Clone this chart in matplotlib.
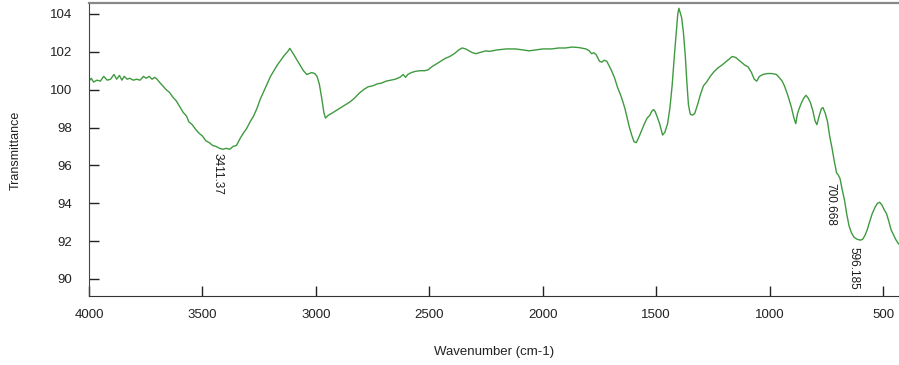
import numpy as np
import matplotlib.pyplot as plt

# FTIR spectrum, wavenumber (cm-1) vs transmittance
wavenumber = [
    4000, 3990, 3980, 3965, 3950, 3935, 3920, 3905, 3890, 3878, 3866, 3855, 3845, 3832,
    3820, 3805, 3790, 3775, 3760, 3748, 3735, 3722, 3710, 3700, 3690, 3675, 3660, 3645,
    3630, 3615, 3600, 3585, 3570, 3560, 3545, 3530, 3515, 3500, 3485, 3470, 3455, 3440,
    3425, 3410, 3395, 3380, 3365, 3350, 3335, 3320, 3305, 3290, 3275, 3260, 3245, 3230,
    3215, 3200, 3185, 3170, 3155, 3140, 3125, 3115, 3100, 3085, 3070, 3055, 3040, 3030,
    3018, 3005, 2995, 2985, 2975, 2965, 2958, 2945, 2930, 2910, 2890, 2870, 2850, 2830,
    2810, 2790, 2770, 2750, 2730, 2710, 2690, 2670, 2650, 2630, 2615, 2605, 2595, 2580,
    2560, 2540, 2520, 2505, 2490, 2470, 2450, 2430, 2410, 2390, 2370, 2355, 2340, 2325,
    2310, 2295, 2280, 2265, 2250, 2235, 2200, 2160, 2120, 2090, 2060, 2030, 2000, 1960,
    1930, 1900, 1870, 1840, 1810, 1795, 1785, 1775, 1765, 1750, 1740, 1730, 1718, 1705,
    1695, 1683, 1670, 1658, 1648, 1638, 1628, 1618, 1608, 1598, 1588, 1578, 1566, 1552,
    1540, 1528, 1520, 1512, 1505, 1497, 1485, 1472, 1462, 1450, 1440, 1430, 1420, 1412,
    1405, 1400, 1395, 1388, 1380, 1372, 1365, 1358, 1350, 1340, 1330, 1318, 1305, 1292,
    1278, 1262, 1245, 1228, 1210, 1195, 1180, 1165, 1150, 1140, 1125, 1110, 1095, 1080,
    1068, 1057, 1045, 1030, 1010, 990, 970, 955, 945, 935, 920, 905, 893, 885,
    878, 870, 860, 850, 840, 830, 820, 810, 800, 792, 782, 772, 765, 755,
    745, 735, 725, 715, 705, 698, 690, 680, 670, 660, 650, 640, 628, 615,
    600, 590, 580, 570, 560, 548, 535, 525, 515, 505, 495, 485, 475, 465,
    455, 445, 432,
]
transmittance = [
    100.45, 100.6, 100.4, 100.5, 100.45, 100.7, 100.5, 100.55, 100.8, 100.55, 100.75, 100.5, 100.7, 100.55,
    100.6, 100.5, 100.55, 100.5, 100.7, 100.6, 100.7, 100.55, 100.65, 100.55, 100.4, 100.2, 100.0, 99.85,
    99.6, 99.4, 99.1, 98.8, 98.6, 98.3, 98.15, 97.9, 97.7, 97.55, 97.3, 97.2, 97.05, 97.0,
    96.9, 96.85, 96.9, 96.85, 97.0, 97.05, 97.4, 97.7, 97.95, 98.3, 98.6, 99.0, 99.5, 99.9,
    100.3, 100.7, 101.0, 101.3, 101.55, 101.8, 102.0, 102.18, 101.9, 101.6, 101.3, 101.0, 100.8, 100.85,
    100.9, 100.85, 100.7, 100.3, 99.6, 98.8, 98.5, 98.65, 98.75, 98.9, 99.05, 99.2, 99.35, 99.55,
    99.8, 100.0, 100.15, 100.2, 100.3, 100.35, 100.45, 100.5, 100.55, 100.65, 100.8, 100.65, 100.8, 100.9,
    100.97, 101.0, 101.0, 101.05, 101.2, 101.35, 101.5, 101.65, 101.75, 101.9, 102.1, 102.2, 102.15, 102.05,
    101.95, 101.9, 101.95, 102.0, 102.05, 102.02, 102.1, 102.15, 102.15, 102.1, 102.05, 102.1, 102.15, 102.15,
    102.2, 102.2, 102.25, 102.22, 102.15, 102.05, 101.9, 101.95, 101.85, 101.5, 101.45, 101.55, 101.5, 101.2,
    100.95, 100.6, 100.1, 99.75, 99.4, 99.0, 98.5, 98.0, 97.6, 97.25, 97.2, 97.45, 97.8, 98.2,
    98.5, 98.65, 98.85, 98.95, 98.85, 98.6, 98.2, 97.6, 97.75, 98.2, 99.0, 100.2, 101.8, 103.0,
    104.0, 104.3, 104.1, 103.8, 103.0, 101.8, 100.4, 99.2, 98.7, 98.65, 98.75, 99.2, 99.75, 100.2,
    100.4, 100.7, 100.95, 101.15, 101.3, 101.45, 101.6, 101.75, 101.7, 101.6, 101.45, 101.3, 101.2, 100.9,
    100.55, 100.45, 100.7, 100.8, 100.85, 100.85, 100.8, 100.6, 100.45, 100.2, 99.7, 99.1, 98.5, 98.2,
    98.7, 99.0, 99.3, 99.55, 99.7, 99.55, 99.3, 98.9, 98.35, 98.15, 98.6, 99.0, 99.05, 98.75,
    98.3, 97.5, 96.9, 96.2, 95.6, 95.5, 95.3, 94.7, 94.15, 93.4, 92.8, 92.45, 92.2, 92.1,
    92.05, 92.1, 92.3, 92.6, 93.0, 93.45, 93.8, 94.0, 94.05, 93.9, 93.65, 93.45, 93.05, 92.6,
    92.35, 92.1, 91.85,
]

# peak labels: text, x shift (cm-1), top of the text (transmittance)
peak_labels = ["3411.37", "700.668", "596.185"]
peak_positions = [3411.37, 700.668, 596.185]
label_shift = [20, 30, 34]
label_top = [96.65, 95.05, 91.7]

plt.rcParams['font.family'] = ['Liberation Sans', 'DejaVu Sans']

fig = plt.figure(figsize=(8.99, 3.65), dpi=100)
ax = fig.add_axes([0.099, 0.189, 0.901, 0.803])

ax.plot(wavenumber, transmittance, color='#3f9a3f', linewidth=1.0)

for text, pos, shift, top in zip(peak_labels, peak_positions, label_shift, label_top):
    ax.text(pos + shift, top, text, rotation=270, ha='center', va='top',
            fontsize=8.5, color='#1a1a1a')

ax.set_xlim(4000, 430)
ax.set_ylim(89.1, 104.58)
ax.set_xticks([4000, 3500, 3000, 2500, 2000, 1500, 1000, 500])
ax.set_yticks(np.arange(90, 105, 2))

ax.tick_params(axis='both', direction='in', length=7, width=1, labelsize=9.5, colors='#222222')
ax.tick_params(axis='y', pad=12)
ax.tick_params(axis='x', pad=9)

ax.spines['right'].set_visible(False)
ax.spines['top'].set_color('#888888')
ax.spines['top'].set_linewidth(1.6)
ax.spines['left'].set_color('#444444')
ax.spines['bottom'].set_color('#333333')

ax.set_xlabel('Wavenumber (cm-1)', fontsize=9.5, color='#222222', labelpad=18)
fig.text(0.017, 0.589, 'Transmittance', rotation=90, ha='center', va='center',
         fontsize=9, color='#222222')

fig.savefig('out.png', dpi=100)
